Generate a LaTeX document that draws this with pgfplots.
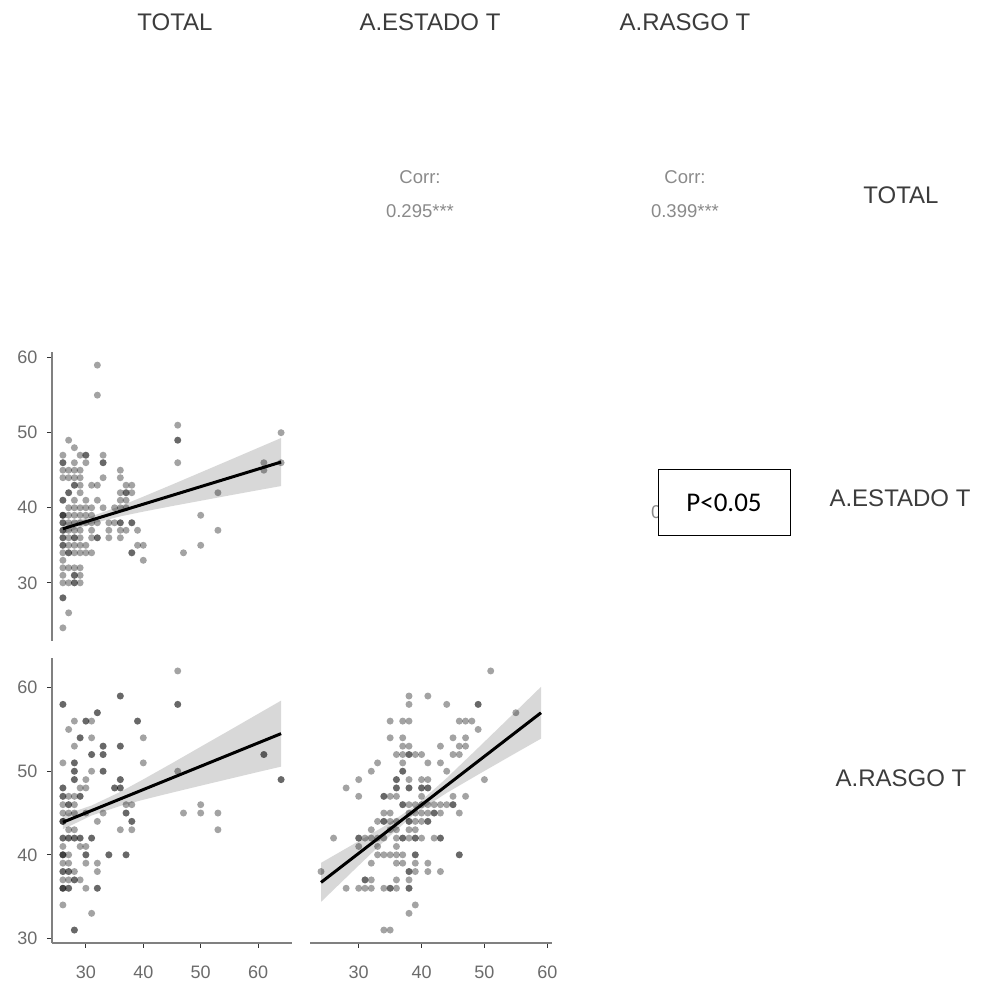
\documentclass[border=0pt]{standalone}
\usepackage{pgfplots}
\pgfplotsset{compat=1.18}
\usepackage{fontspec}
\setmainfont{Liberation Sans}
\newfontfamily\calib{Carlito}
\definecolor{axgray}{HTML}{808080}
\definecolor{lblgray}{HTML}{3C3C3C}
\definecolor{corrgray}{HTML}{8A8A8A}
\pgfplotsset{
  pairs/.style={
    scale only axis,
    axis line style={axgray, line width=1.8pt},
    tick style={black!80, line width=1.2pt},
    tick align=outside,
    major tick length=5pt,
    ticklabel style={font=\fontsize{18}{18}\selectfont, text=black!58},
    xticklabel style={yshift=-14pt},
    yticklabel style={xshift=-6pt},
    /pgf/number format/assume math mode=true,
    xtick={30,40,50,60}, ytick={30,40,50,60},
    clip=false,
  },
  pts/.style={only marks, mark=*, mark size=3.5pt, mark options={draw=black, draw opacity=0, fill=black, fill opacity=0.36}},
  band/.style={draw=none, fill=black!40, fill opacity=0.38},
  fit/.style={black, line width=3pt},
}
\begin{document}
\begin{tikzpicture}
\useasboundingbox (0,0) rectangle (984pt,985pt);

% ---------- row 2, col 1 : TOTAL vs A.ESTADO T ----------
\begin{axis}[pairs, at={(52pt,344pt)}, anchor=south west,
  width=240pt, height=289pt,
  xmin=24.1, xmax=65.9, ymin=22.25, ymax=60.75,
  axis y line*=left, axis x line=none]
\addplot[pts] coordinates {
(27,49) (28,48)
(26,47) (29,47) (30,47)(30,47) (33,47)
(26,46)(26,46) (28,46) (30,46) (33,46)(33,46)
(26,45) (27,45) (28,45) (29,45) (36,45)
(26,44) (27,44) (28,44) (29,44) (33,44) (36,44)
(28,43)(28,43) (29,43) (31,43) (32,43) (37,43) (38,43)
(27,42)(27,42) (29,42) (36,42) (37,42)(37,42) (38,42)
(26,41)(26,41) (28,41) (30,41) (32,41) (36,41) (37,41)
(27,40) (28,40) (29,40) (30,40) (31,40) (33,40) (35,40) (36,40) (37,40)
(26,39)(26,39)(26,39) (27,39) (28,39) (29,39) (30,39) (31,39)
(26,38)(26,38) (27,38) (28,38) (29,38) (30,38) (31,38) (32,38) (34,38) (35,38) (36,38)(36,38) (38,38)(38,38)
(26,37)(26,37) (27,37) (28,37) (29,37) (31,37) (34,37) (36,37) (37,37) (39,37)
(26,36)(26,36) (27,36) (28,36)(28,36) (29,36) (31,36) (32,36)(32,36) (34,36) (36,36)
(26,35)(26,35) (27,35) (28,35) (29,35) (30,35) (39,35) (40,35)
(26,34) (27,34)(27,34) (28,34) (29,34) (30,34) (31,34) (38,34)(38,34)
(26,33) (40,33)
(26,32) (27,32) (28,32) (29,32)
(26,31) (28,31)(28,31) (29,31)
(26,30) (27,30) (28,30)(28,30) (29,30)
(26,28)(26,28)
(27,26) (26,24)
(32,59) (32,55)
(46,51) (46,49)(46,49) (46,46)
(64,50) (64,46) (61,45) (61,46)
(53,42) (50,39) (50,35) (53,37) (47,34)
};
\addplot[band] coordinates {
(26,37.89) (31,38.87) (36,40.23) (40,41.48) (45,43.08) (50,44.71) (55,46.34) (60,47.98) (64,49.29)
(64,42.89) (60,42.34) (55,41.64) (50,40.93) (45,40.22) (40,39.48) (36,38.85) (31,37.87) (26,36.51)
} -- cycle;
\addplot[fit] coordinates {(26,37.2) (64,46.09)};
\end{axis}

% ---------- row 3, col 1 : TOTAL vs A.RASGO T ----------
\begin{axis}[pairs, at={(52pt,42pt)}, anchor=south west,
  width=240pt, height=285pt,
  xmin=24.1, xmax=65.9, ymin=29.45, ymax=63.55,
  axis y line*=left, axis x line*=bottom]
\addplot[pts] coordinates {
(36,59)(36,59) (26,58)(26,58) (32,57)(32,57)
(28,56) (30,56)(30,56) (31,56) (39,56)(39,56)
(27,55)
(29,54)(29,54) (31,54) (40,54)
(28,53) (33,53)(33,53) (36,53)(36,53)
(31,52)(31,52) (33,52)(33,52)
(26,51) (28,51)(28,51) (40,51)
(28,50)(28,50) (31,50) (33,50)(33,50)
(28,49)(28,49) (30,49) (36,49)(36,49)
(26,48)(26,48) (29,48) (30,48) (35,48)(35,48) (36,48)(36,48)
(26,47)(26,47) (27,47) (28,47) (29,47)(29,47)
(26,46) (27,46)(27,46) (28,46) (37,46) (38,46)
(26,45) (27,45) (28,45) (30,45) (33,45) (37,45)(37,45)
(26,44)(26,44)(26,44) (32,44) (38,44)(38,44)
(27,43) (28,43) (36,43) (38,43)
(26,42)(26,42) (27,42)(27,42) (28,42)(28,42) (29,42)(29,42) (31,42)(31,42)
(26,41) (29,41) (30,41)
(26,40)(26,40)(26,40) (27,40) (30,40)(30,40) (34,40)(34,40) (37,40)(37,40)
(26,39) (27,39) (30,39) (32,39)
(26,38)(26,38) (27,38)(27,38) (28,38) (32,38)
(26,37) (27,37) (28,37)(28,37) (29,37)
(26,36)(26,36)(26,36) (27,36)(27,36) (30,36) (32,36)(32,36)
(26,34) (31,33) (28,31)(28,31)
(46,62) (46,58)(46,58) (46,50) (47,45) (50,46) (50,45) (53,45) (53,43)
(61,52)(61,52) (64,49)(64,49)
};
\addplot[band] coordinates {
(26,44.74) (31,45.9) (36,47.53) (40,49.03) (45,50.96) (50,52.93) (55,54.89) (60,56.87) (64,58.45)
(64,50.55) (60,49.91) (55,49.09) (50,48.27) (45,47.44) (40,46.59) (36,45.85) (31,44.7) (26,43.06)
} -- cycle;
\addplot[fit] coordinates {(26,43.9) (64,54.5)};
\end{axis}

% ---------- row 3, col 2 : A.ESTADO T vs A.RASGO T ----------
\begin{axis}[pairs, at={(310pt,42pt)}, anchor=south west,
  width=242pt, height=285pt,
  xmin=22.25, xmax=60.75, ymin=29.45, ymax=63.55,
  axis y line=none, axis x line*=bottom]
\addplot[pts] coordinates {
(38,59) (41,59) (38,58)
(35,56) (37,56) (38,56)
(35,54) (37,54)
(37,53) (38,53)
(36,52) (37,52) (38,52)(38,52) (39,52) (40,52)
(33,51) (37,51) (41,51)
(32,50) (37,50)(37,50)
(30,49) (36,49)(36,49) (38,49) (40,49) (41,49)
(28,48) (36,48)(36,48) (38,48)(38,48) (40,48)(40,48) (41,48)(41,48)
(30,47) (34,47)(34,47) (35,47) (36,47) (40,47)
(37,46)(37,46) (38,46) (39,46) (40,46) (41,46)
(34,45) (35,45) (38,45) (39,45) (40,45) (41,45)
(33,44) (34,44)(34,44) (35,44) (36,44) (38,44)(38,44) (39,44) (40,44) (41,44)(41,44)
(32,43) (35,43) (36,43) (38,43) (39,43)
(26,42) (30,42)(30,42) (31,42) (32,42) (33,42) (34,42) (36,42) (37,42)(37,42) (38,42) (39,42)(39,42) (40,42)
(30,41) (33,41) (36,41)
(33,40) (34,40) (35,40) (36,40) (37,40) (39,40)(39,40)
(32,39) (36,39) (37,39) (39,39) (41,39)
(38,38)(38,38) (39,38) (41,38)
(31,37)(31,37) (32,37) (36,37) (38,37)
(28,36) (30,36) (31,36) (32,36) (34,36) (35,36)(35,36) (36,36) (38,36)(38,36)
(39,34) (38,33) (34,31) (35,31) (24,38)
(51,62) (44,58) (49,58)(49,58) (55,57) (46,56) (47,56) (48,56) (49,55)
(45,54) (47,54) (43,53) (46,53) (47,53) (45,52) (46,52) (43,51) (44,50) (50,49)
(45,47) (47,47) (42,46) (43,46) (44,46) (45,46)(45,46) (42,45)(42,45) (43,45) (46,45)
(42,42) (43,42)(43,42) (46,40)(46,40) (43,38)
};
\addplot[band] coordinates {
(24,39.04) (29,41.2) (34,43.39) (39,45.85) (44,49.19) (49,52.8) (54,56.44) (59,60.1)
(59,53.9) (54,51.76) (49,49.6) (44,47.41) (39,44.95) (34,41.61) (29,38.0) (24,34.36)
} -- cycle;
\addplot[fit] coordinates {(24,36.7) (59,57.0)};
\end{axis}

% ---------- strip labels ----------
\begin{scope}[every node/.style={font=\fontsize{24}{24}\selectfont, text=lblgray, inner sep=0pt}]
\node at (175pt,963pt) {TOTAL};
\node at (430pt,963pt) {A.ESTADO T};
\node at (685pt,963pt) {A.RASGO T};
\node at (901pt,790pt) {TOTAL};
\node at (900pt,487pt) {A.ESTADO T};
\node at (901pt,207pt) {A.RASGO T};
\end{scope}

% ---------- correlations ----------
\begin{scope}[every node/.style={font=\fontsize{18.5}{18.5}\selectfont, text=corrgray, inner sep=0pt}]
\node at (420pt,808pt) {Corr:};
\node at (420pt,774pt) {0.295***};
\node at (685pt,808pt) {Corr:};
\node at (685pt,774pt) {0.399***};
\node at (685pt,507pt) {Corr:};
\node at (685pt,473pt) {0.533***};
\end{scope}

% ---------- overlay box ----------
\draw[black, line width=1pt, fill=white] (658pt,449pt) rectangle (790pt,515pt);
\node[font=\calib\fontsize{27}{27}\selectfont, text=black, inner sep=0pt] at (724pt,482pt) {P<0.05};
\end{tikzpicture}
\end{document}
